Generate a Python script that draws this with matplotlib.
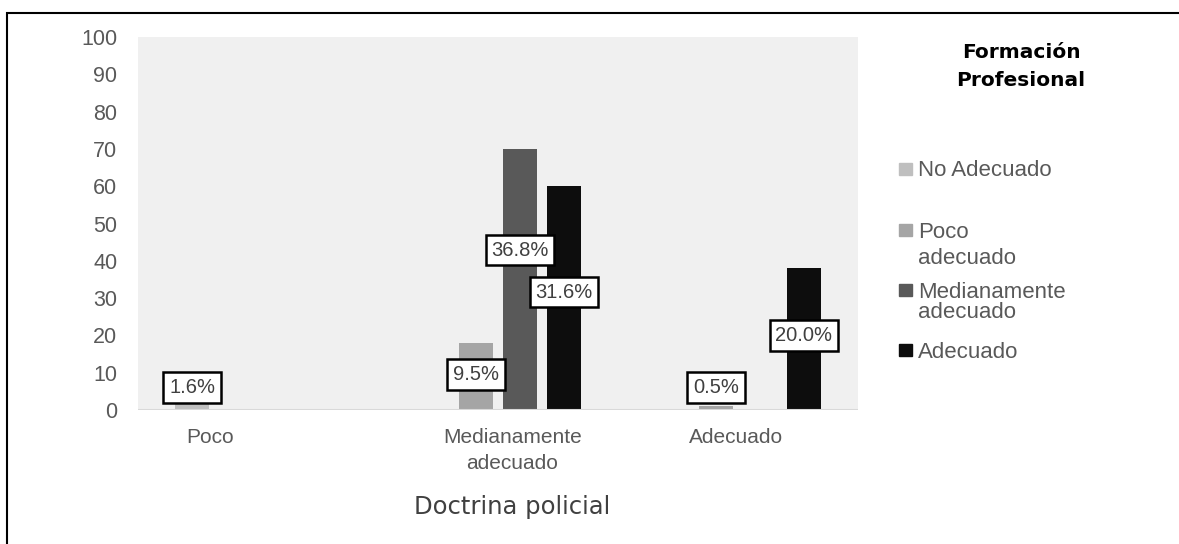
import matplotlib.pyplot as plt
from matplotlib.patches import Rectangle
import numpy as np

plt.rcParams['font.family'] = ['Liberation Sans', 'DejaVu Sans']

# data
categories = ['Poco', 'Medianamente\nadecuado', 'Adecuado']
series = ['No Adecuado', 'Poco adecuado', 'Medianamente adecuado', 'Adecuado']
legend_labels = ['No Adecuado', 'Poco\nadecuado', 'Medianamente\nadecuado', 'Adecuado']
colors = ['#bfbfbf', '#a5a5a5', '#595959', '#0d0d0d']
no_adecuado = [2, 0, 0]
poco_adecuado = [0, 18, 1]
medianamente = [0, 70, 0]
adecuado = [0, 60, 38]
values = [no_adecuado, poco_adecuado, medianamente, adecuado]

# percentage labels: (category index, series index, value)
pct_labels = [(0, 0, 1.6), (1, 1, 9.5), (1, 2, 36.8), (1, 3, 31.6), (2, 1, 0.5), (2, 3, 20.0)]

fig = plt.figure(figsize=(11.79, 5.44), dpi=100)
ax = fig.add_axes([138 / 1179, 1 - 410 / 544, 720 / 1179, 373 / 544])
ax.set_facecolor('#f0f0f0')

x = np.arange(len(categories))
step = 0.183
width = 0.142
for i in range(len(series)):
    offs = (i - 1.5) * step
    vals = np.array(values[i])
    mask = vals > 0
    ax.bar(x[mask] + offs, vals[mask], width=width, color=colors[i], zorder=2)

for c, s, p in pct_labels:
    ypos = max(p, 6)
    if p > 35:
        ypos = p + 6  # pushed up in the original so it does not hit its neighbour
    ax.text(x[c] + (s - 1.5) * step, ypos, f'{p:.1f}%', ha='center', va='center',
            fontsize=14.5, color='#404040', zorder=4,
            bbox=dict(boxstyle='square,pad=0.28', fc='white', ec='black', lw=1.8))

ax.set_xlim(-0.5, 2.5)
ax.set_ylim(0, 100)
ax.set_yticks(range(0, 101, 10))
ax.tick_params(axis='y', length=0, labelsize=15.5, labelcolor='#595959', pad=15)
ax.set_xticks([-0.2, 1.06, 1.99])
ax.set_xticklabels(categories)
ax.tick_params(axis='x', length=0, labelsize=15, labelcolor='#595959', pad=13)
for t in ax.get_xticklabels():
    t.set_linespacing(1.45)
for sp in ax.spines.values():
    sp.set_visible(False)
ax.axhline(0, color='#d9d9d9', lw=1.5, zorder=3)

fig.text(512 / 1179, 1 - 507 / 544, 'Doctrina policial', ha='center', va='center',
         fontsize=17.5, color='#404040', family='DejaVu Sans')

for k, line in enumerate(['Formación', 'Profesional']):
    fig.text(1021 / 1179, 1 - (52 + 28 * k) / 544, line, ha='center', va='center',
             fontsize=14.5, fontweight='bold', color='black', family='DejaVu Sans')

# legend drawn by hand
leg_y = [169, 230, 290, 350]
leg_gap = [0, 27, 21, 0]
for i in range(len(series)):
    y = 1 - leg_y[i] / 544
    fig.patches.append(Rectangle((899 / 1179, y - 6 / 544), 13 / 1179, 12 / 544,
                                 transform=fig.transFigure, color=colors[i]))
    for k, line in enumerate(legend_labels[i].split('\n')):
        fig.text(918 / 1179, 1 - (leg_y[i] + 2 + leg_gap[i] * k) / 544, line,
                 ha='left', va='center', fontsize=16, color='#595959')

# outer frame
fig.patches.append(Rectangle((7 / 1179, -0.1), 1.1, 1.1 - 13 / 544, transform=fig.transFigure,
                             fill=False, ec='black', lw=1.5))

fig.savefig('out.png', dpi=100)
